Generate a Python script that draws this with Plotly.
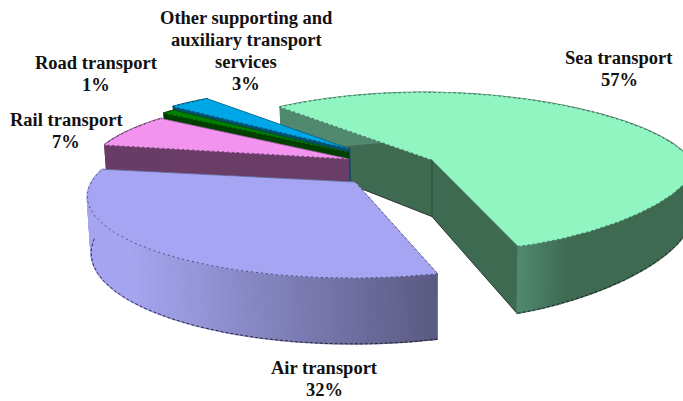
import numpy as np
import plotly.graph_objects as go

categories = ["Sea transport", "Air transport", "Rail transport", "Road transport",
              "Other supporting and<br>auxiliary transport<br>services"]
values = [57, 32, 7, 1, 3]
percent_labels = ["57%", "32%", "7%", "1%", "3%"]

# ---- styling / view configuration ----
START = 129.3            # plane angle where the first slice begins, going clockwise
CX, CY, A, B, P, H = 370.0, 172.0, 265.0, 79.0, 0.165, 58.0
pull = [(0.24, 0.156), (-0.055, -0.124), (-0.082, 0.17), (-0.083, 0.257), (-0.08, 0.306)]
radius = [1.0, 0.975, 1.0, 1.0, 1.02]
turn = [0.0, 1.7, 0.0, 0.0, 0.0]
height = [1.0, 0.93, 1.0, 1.0, 1.0]
top_col = ["#90f5c1", "#a5a5f3", "#f294ef", "#008000", "#00a7e6"]
wall_col = ["#3f6a52", "#a5a5f0", "#693d66", "#003f00", "#05506e"]
label_pos = [(619, 69), (324, 379), (66, 131), (96, 74), (246, 51)]
LINE_GAP = 22
draw_order = [0, 4, 3, 2, 1]


def project(X, Y, z=0.0):
    s = 1.0 / (1.0 + P * Y)
    x = CX + A * X * s
    y = CY - B * Y * s + H * z * s
    return x + (430 - x) * 0.012 * z, y


def lerp(c1, c2, t):
    t = float(np.clip(t, 0, 1))
    a = [int(c1[i:i + 2], 16) for i in (1, 3, 5)]
    b = [int(c2[i:i + 2], 16) for i in (1, 3, 5)]
    return "rgb(%d,%d,%d)" % tuple(round(a[k] + (b[k] - a[k]) * t) for k in range(3))


def wall_shade(i, sx):
    if i == 0:   # sea: lighter band beside the front cut
        return lerp("#50896f", wall_col[0], (sx - 519) / 50)
    if i == 1:   # air: light at left, dark at right
        return lerp("#a5a5f0", "#5a5a82", (sx - 130) / 305)
    return wall_col[i]


fig = go.Figure()


def poly(xs, ys, color, width=1.5):
    fig.add_trace(go.Scatter(x=list(xs), y=list(ys), mode="lines", fill="toself",
                             fillcolor=color, line=dict(color=color, width=width),
                             hoverinfo="skip", showlegend=False))


def edge(xs, ys, color="rgba(20,20,30,0.75)", width=0.8, dash="2px,3px"):
    fig.add_trace(go.Scatter(x=list(xs), y=list(ys), mode="lines",
                             line=dict(color=color, width=width, dash=dash),
                             hoverinfo="skip", showlegend=False))


fracs = np.array(values, dtype=float) / sum(values) * 360.0
ends = START - np.cumsum(fracs)
starts = ends + fracs

for i in draw_order:
    a0, a1 = np.radians(starts[i] + turn[i]), np.radians(ends[i] + turn[i])
    n = max(6, int(fracs[i] * 1.2))
    th = np.linspace(a0, a1, n + 1)
    px, py = pull[i]
    R = radius[i]
    X = px + R * np.cos(th)
    Y = py + R * np.sin(th)
    h = height[i]
    xt, yt = project(X, Y, 0)
    xb, yb = project(X, Y, h)
    ax, ay = project(np.array(px), np.array(py), 0)
    bx, by = project(np.array(px), np.array(py), h)
    if i == 0:
        # lower right of the sea slice curls in a little tighter; the far rim sits a little higher
        low = np.sin(th) < 0
        over = np.clip(xt - 519, 0, None) / 164
        bend = 14 * over ** 1.3 * low + 3.0 * np.clip(np.sin(th), 0, None) ** 3
        yt, yb = yt - bend, yb - bend - 5 * over * low

    # radial cut faces
    flat = wall_col[i] if i != 1 else "#5a5a82"
    poly([xt[0], ax, bx, xb[0]], [yt[0], ay, by, yb[0]], flat, 0.5)
    poly([xt[-1], ax, bx, xb[-1]], [yt[-1], ay, by, yb[-1]], flat, 0.5)
    if i == 0:
        edge([ax, bx], [ay, by], "rgba(40,70,55,0.8)", 1, "solid")
        edge([xt[-1], xb[-1]], [yt[-1], yb[-1]], "rgba(40,70,55,0.8)", 1, "solid")
        edge([bx, xb[-1]], [by, yb[-1]], "rgba(40,50,45,0.9)", 1, "solid")
        edge([bx, xb[0]], [by, yb[0]], "rgba(40,50,45,0.9)", 1, "solid")

    # outer rim
    for k in range(n):
        poly([xt[k], xt[k + 1], xb[k + 1], xb[k]], [yt[k], yt[k + 1], yb[k + 1], yb[k]],
             wall_shade(i, 0.5 * (xt[k] + xt[k + 1])))

    front = np.sin(th) < 0
    if front.any():
        edge(xb[front], yb[front], "rgba(20,20,30,0.85)", 1.0, "3px,2px")

    # top surface
    poly(np.r_[ax, xt, ax], np.r_[ay, yt, ay], top_col[i], 0.5)
    edge(xt, yt, "rgba(20,20,30,0.7)", 0.8)
    edge([ax, xt[0]], [ay, yt[0]], "rgba(20,20,30,0.7)", 0.8)
    edge([ax, xt[-1]], [ay, yt[-1]], "rgba(20,20,30,0.35)", 0.8, "solid")

for c, pct, (lx, ly) in zip(categories, percent_labels, label_pos):
    lines = c.split("<br>") + [pct]
    for j, line in enumerate(lines):
        fig.add_annotation(x=lx, y=ly + (j - (len(lines) - 1) / 2) * LINE_GAP, text=line,
                           showarrow=False, xanchor="center", yanchor="middle",
                           font=dict(family="Liberation Serif", size=18.5, color="#111111", weight="bold"))

fig.update_layout(width=683, height=401, margin=dict(l=0, r=0, t=0, b=0),
                  paper_bgcolor="white", plot_bgcolor="white", showlegend=False,
                  xaxis=dict(range=[0, 683], visible=False, fixedrange=True),
                  yaxis=dict(range=[401, 0], visible=False, fixedrange=True))
fig.write_html("out.html", config={"displayModeBar": False},
               post_script="document.body.style.margin='0';")
